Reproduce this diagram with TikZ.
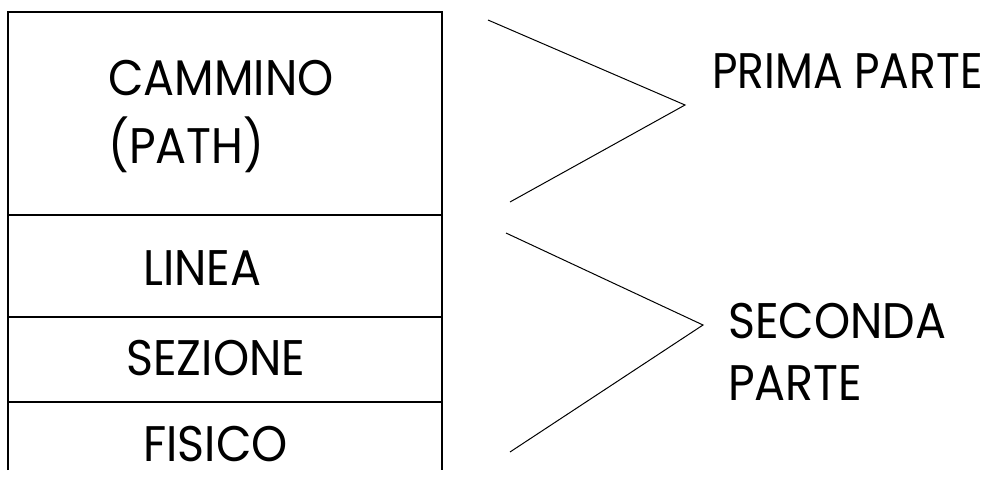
\documentclass[tikz,border=0pt]{standalone}
\usepackage{fontspec}
\setmainfont{Poppins}[FakeStretch=0.92]
\newfontfamily\primafont{Poppins}[FakeStretch=0.88]
\begin{document}
\begin{tikzpicture}[x=1pt,y=-1pt,
    layer/.style={anchor=base west, inner sep=0pt, font=\fontsize{50}{60}\selectfont},
    part/.style={anchor=base west, inner sep=0pt, font=\fontsize{50}{60}\selectfont}]
    \useasboundingbox (0,0) rectangle (997,477);
    \draw[black, line width=1.4pt] (8,470) -- (8,12) -- (442,12) -- (442,470);
    \draw[black, line width=1.4pt] (8,215) -- (442,215) (8,317) -- (442,317) (8,402) -- (442,402);
    \node[layer] (cammino) at (108,95) {CAMMINO};
    \node[layer] (path) at (108,163) {(PATH)};
    \node[layer] (linea) at (143,285) {LINEA};
    \node[layer] (sezione) at (126,375) {SEZIONE};
    \node[layer] (fisico) at (143,461) {FISICO};
    \coordinate (p1) at (488,20);
    \coordinate (p2) at (685,105);
    \coordinate (p3) at (510,202);
    \coordinate (s1) at (506,233);
    \coordinate (s2) at (703,325);
    \coordinate (s3) at (510,452);
    \draw[black, line width=1pt] (p1) -- (p2) -- (p3);
    \draw[black, line width=1pt] (s1) -- (s2) -- (s3);
    \node[part, font=\fontsize{50}{60}\primafont] (prima) at (712,88) {PRIMA PARTE};
    \node[part] (seconda) at (728,338) {SECONDA};
    \node[part] (parte) at (728,400) {PARTE};
\end{tikzpicture}
\end{document}
